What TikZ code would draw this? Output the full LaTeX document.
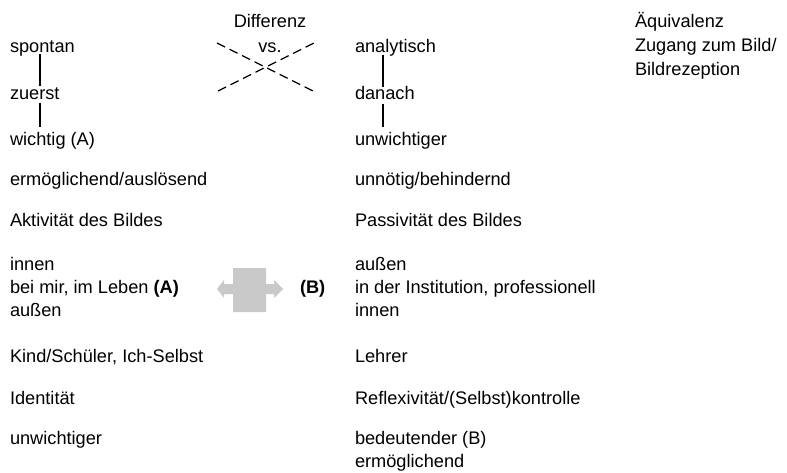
\documentclass[tikz,border=0pt]{standalone}
\usepackage{fontspec}
\setmainfont{Liberation Sans}
\begin{document}
\begin{tikzpicture}[x=1pt,y=-1pt,
  lbl/.style={anchor=base west,inner sep=0pt,outer sep=0pt,font=\fontsize{18.2}{23}\selectfont},
  ctr/.style={anchor=base,inner sep=0pt,outer sep=0pt,font=\fontsize{18.2}{23}\selectfont},
  vline/.style={line width=1.6pt},
  xline/.style={line width=1.3pt,dash pattern=on 9pt off 5pt},
  twoway/.style={fill=black!21,draw=none}]
\useasboundingbox (0,0) rectangle (787,473);
% header
\node[ctr] (diff) at (270,28) {Differenz};
\node[ctr] (vs) at (270,53) {vs.};
\node[lbl] (aeq) at (635,28) {Äquivalenz};
\node[lbl] (zug) at (635,52) {Zugang zum Bild/};
\node[lbl] (bre) at (635,76) {Bildrezeption};
% dashed cross
\coordinate (x1) at (217,43);
\coordinate (x2) at (313,91);
\coordinate (x3) at (218,91);
\coordinate (x4) at (314,43);
\draw[xline] (x1) -- (x2);
\draw[xline] (x3) -- (x4);
% left column
\node[lbl] (l1) at (10,53) {spontan};
\node[lbl] (l2) at (10,100) {zuerst};
\node[lbl] (l3) at (10,146) {wichtig (A)};
\node[lbl] (l4) at (10,186) {ermöglichend/auslösend};
\node[lbl] (l5) at (10,226) {Aktivität des Bildes};
\node[lbl] (l6a) at (10,270) {innen};
\node[lbl] (l6b) at (10,293) {bei mir, im Leben \textbf{(A)}};
\node[lbl] (l6c) at (10,316) {außen};
\node[lbl] (l7) at (10,362) {Kind/Schüler, Ich-Selbst};
\node[lbl] (l8) at (10,404) {Identität};
\node[lbl] (l9) at (10,444) {unwichtiger};
% right column
\node[lbl] (r1) at (355,53) {analytisch};
\node[lbl] (r2) at (355,100) {danach};
\node[lbl] (r3) at (355,146) {unwichtiger};
\node[lbl] (r4) at (355,186) {unnötig/behindernd};
\node[lbl] (r5) at (355,226) {Passivität des Bildes};
\node[lbl] (r6a) at (355,270) {außen};
\node[lbl] (r6b) at (355,293) {in der Institution, professionell};
\node[lbl] (r6c) at (355,316) {innen};
\node[lbl] (r7) at (355,362) {Lehrer};
\node[lbl] (r8) at (355,404) {Reflexivität/(Selbst)kontrolle};
\node[lbl] (r9a) at (355,444) {bedeutender (B)};
\node[lbl] (r9b) at (355,467) {ermöglichend};
\node[lbl] (bB) at (300,293) {\textbf{(B)}};
% vertical connectors
\draw[vline] ([shift={(30,1)}]l1.base west) -- ([shift={(30,-14)}]l2.base west);
\draw[vline] ([shift={(30,3)}]l2.base west) -- ([shift={(30,-19)}]l3.base west);
\draw[vline] ([shift={(28,2)}]r1.base west) -- ([shift={(28,-13)}]r2.base west);
\draw[vline] ([shift={(28,4)}]r2.base west) -- ([shift={(28,-19)}]r3.base west);
% double arrow shape
\fill[twoway] (217,289) -- (224,280) -- (224,284) -- (233,284) -- (233,268)
  -- (266,268) -- (266,284) -- (274,284) -- (274,280) -- (283,289)
  -- (274,298) -- (274,294) -- (266,294) -- (266,312) -- (233,312)
  -- (233,294) -- (224,294) -- (224,298) -- cycle;
\end{tikzpicture}
\end{document}
